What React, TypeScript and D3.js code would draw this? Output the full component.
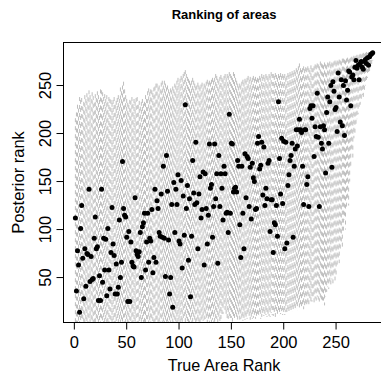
import React from "react";
import * as d3 from "d3";

// Posterior (mean) rank for each area, areas ordered by true rank 1..285
const posteriorRank: number[] = [
  112, 36, 78, 63, 14, 101, 125, 70, 28, 80,
  41, 75, 74, 142, 46, 72, 48, 49, 91, 113,
  80, 82, 26, 52, 26, 142, 45, 91, 58, 90,
  31, 101, 58, 38, 76, 123, 85, 73, 33, 64,
  33, 40, 110, 50, 66, 171, 122, 115, 113, 92,
  25, 98, 25, 87, 66, 62, 61, 133, 78, 74,
  72, 77, 97, 50, 103, 107, 117, 58, 87, 117,
  66, 91, 88, 121, 55, 71, 142, 66, 130, 122,
  97, 93, 137, 92, 166, 91, 51, 177, 140, 89,
  33, 50, 126, 19, 149, 97, 142, 126, 157, 88,
  85, 151, 60, 135, 94, 230, 122, 146, 68, 132,
  30, 93, 172, 138, 126, 191, 128, 80, 137, 155,
  112, 121, 160, 63, 158, 122, 85, 115, 189, 143,
  147, 92, 124, 189, 132, 158, 65, 177, 124, 158,
  143, 110, 166, 158, 117, 118, 97, 220, 117, 190,
  189, 139, 143, 144, 139, 172, 166, 105, 71, 166,
  117, 80, 179, 133, 176, 174, 124, 165, 111, 169,
  154, 150, 121, 122, 190, 197, 163, 167, 191, 136,
  186, 125, 143, 132, 169, 172, 98, 131, 131, 76,
  107, 105, 125, 93, 233, 174, 137, 195, 127, 192,
  80, 191, 86, 146, 157, 172, 177, 190, 92, 166,
  184, 204, 187, 204, 215, 204, 201, 166, 126, 204,
  204, 147, 155, 124, 226, 229, 216, 229, 176, 207,
  197, 242, 196, 124, 207, 190, 184, 208, 204, 159,
  222, 238, 190, 233, 250, 165, 254, 244, 225, 227,
  202, 263, 238, 212, 256, 208, 250, 198, 255, 235,
  245, 265, 264, 229, 259, 261, 256, 269, 276, 268,
  271, 256, 273, 275, 269, 267, 275, 277, 273, 279,
  271, 280, 282, 283, 284,
];

// Lower end of each posterior rank interval
const lowerRank: number[] = [
  1, 1, 2, 1, 1, 2, 1, 3, 1, 2,
  1, 2, 1, 3, 1, 1, 2, 1, 2, 1,
  2, 1, 1, 1, 3, 1, 2, 1, 1, 2,
  1, 1, 2, 1, 1, 3, 1, 2, 1, 1,
  2, 1, 1, 2, 1, 4, 1, 2, 1, 1,
  1, 1, 1, 2, 1, 1, 3, 1, 2, 1,
  2, 1, 1, 3, 1, 2, 1, 1, 2, 1,
  1, 3, 1, 2, 1, 1, 4, 1, 2, 1,
  2, 1, 3, 1, 2, 1, 1, 4, 1, 2,
  1, 1, 2, 1, 1, 5, 3, 2, 4, 1,
  2, 5, 1, 3, 6, 2, 4, 1, 3, 2,
  1, 4, 2, 6, 3, 1, 5, 2, 4, 3,
  6, 3, 5, 2, 7, 4, 3, 6, 2, 5,
  3, 6, 4, 2, 5, 7, 3, 5, 4, 6,
  8, 12, 18, 14, 9, 5, 7, 10, 6, 8,
  4, 7, 5, 9, 6, 5, 8, 4, 7, 6,
  5, 8, 6, 9, 7, 10, 8, 6, 9, 7,
  8, 10, 7, 9, 11, 8, 10, 7, 9, 12,
  10, 8, 11, 9, 12, 10, 9, 13, 11, 10,
  12, 9, 14, 11, 13, 10, 12, 15, 11, 13,
  11, 14, 12, 15, 13, 16, 13, 15, 14, 17,
  15, 18, 16, 20, 17, 19, 18, 21, 17, 19,
  22, 20, 24, 21, 26, 23, 25, 28, 24, 28,
  26, 30, 27, 25, 28, 24, 22, 26, 21, 30,
  35, 40, 38, 45, 42, 48, 44, 50, 47, 52,
  60, 70, 65, 78, 85, 80, 95, 110, 100, 120,
  130, 125, 150, 165, 180, 175, 195, 200, 210, 215,
  220, 225, 230, 235, 240, 238, 245, 250, 255, 258,
  262, 265, 270, 272, 276,
];

// Upper end of each posterior rank interval
const upperRank: number[] = [
  216, 222, 230, 226, 238, 235, 237, 228, 233, 240,
  236, 242, 238, 245, 240, 236, 243, 239, 232, 241,
  237, 244, 240, 235, 246, 245, 243, 238, 241, 236,
  240, 233, 238, 236, 235, 232, 235, 238, 230, 234,
  237, 240, 236, 248, 244, 250, 254, 246, 240, 236,
  232, 230, 235, 234, 238, 231, 236, 233, 237, 238,
  230, 234, 228, 233, 236, 231, 233, 240, 236, 244,
  247, 243, 246, 245, 242, 248, 249, 252, 252, 248,
  250, 246, 253, 255, 250, 255, 252, 248, 250, 246,
  243, 247, 245, 249, 246, 252, 250, 255, 258, 253,
  257, 260, 258, 262, 264, 266, 262, 259, 257, 255,
  252, 255, 258, 255, 252, 249, 250, 253, 250, 248,
  251, 253, 248, 252, 250, 254, 256, 253, 255, 253,
  256, 258, 255, 258, 262, 260, 257, 255, 259, 261,
  258, 256, 260, 262, 258, 262, 260, 264, 262, 260,
  258, 264, 262, 258, 255, 252, 249, 252, 250, 254,
  256, 253, 257, 255, 258, 260, 256, 259, 255, 258,
  260, 257, 259, 256, 258, 257, 260, 258, 262, 259,
  261, 258, 262, 260, 258, 262, 260, 264, 262, 262,
  260, 263, 261, 258, 262, 260, 263, 260, 262, 260,
  262, 258, 260, 263, 261, 264, 262, 265, 263, 266,
  264, 268, 266, 270, 273, 268, 266, 268, 270, 267,
  269, 268, 270, 268, 266, 271, 268, 268, 270, 272,
  271, 273, 272, 270, 275, 273, 272, 271, 274, 272,
  271, 274, 273, 275, 272, 274, 273, 275, 276, 274,
  276, 275, 277, 276, 275, 278, 278, 277, 276, 278,
  279, 277, 278, 279, 280, 279, 281, 280, 281, 282,
  280, 282, 283, 282, 283, 284, 283, 284, 285, 284,
  285, 285, 285, 285, 285,
];

const xTicks: number[] = [0, 50, 100, 150, 200, 250];
const yTicks: number[] = [50, 100, 150, 200, 250];

const titleText = "Ranking of areas";
const xLabel = "True Area Rank";
const yLabel = "Posterior rank";

const W = 381;
const H = 374;
const plotLeft = 63.5;
const plotRight = 384.6;
const plotTop = 42.5;
const plotBottom = 322.5;
const FONT = "'Liberation Sans', Arial, Helvetica, sans-serif";

export default function App() {
  const n = posteriorRank.length;
  const trueRank = posteriorRank.map((_, i) => i + 1);
  const xExt = d3.extent(trueRank) as [number, number];
  const yExt = d3.extent(posteriorRank) as [number, number];
  const xPad = (xExt[1] - xExt[0]) * 0.04;
  const yPad = (yExt[1] - yExt[0]) * 0.04;
  const x = d3.scaleLinear().domain([xExt[0] - xPad, xExt[1] + xPad]).range([plotLeft, plotRight]);
  const y = d3.scaleLinear().domain([yExt[0] - yPad, yExt[1] + yPad]).range([plotBottom, plotTop]);

  return (
    <svg width={W} height={H} style={{ position: "absolute", left: 0, top: 0, background: "#fff" }} fontFamily={FONT}>
      <defs>
        <clipPath id="plotclip">
          <rect x={plotLeft} y={plotTop} width={plotRight - plotLeft} height={plotBottom - plotTop} />
        </clipPath>
      </defs>
      <rect x={0} y={0} width={W} height={H} fill="#fff" />
      <g clipPath="url(#plotclip)">
        {d3.range(n).map((i) => (
          <line
            key={"l" + i}
            x1={x(trueRank[i])}
            x2={x(trueRank[i])}
            y1={y(upperRank[i])}
            y2={y(lowerRank[i])}
            stroke="#bebebe"
            strokeWidth={1}
            strokeDasharray="4 4"
          />
        ))}
        {d3.range(n).map((i) => (
          <circle key={"p" + i} cx={x(trueRank[i])} cy={y(posteriorRank[i])} r={2.5} fill="#000" />
        ))}
      </g>
      <rect x={plotLeft} y={plotTop} width={plotRight - plotLeft} height={plotBottom - plotTop} fill="none" stroke="#000" strokeWidth={1} />
      {xTicks.map((t) => (
        <g key={"xt" + t}>
          <line x1={x(t)} x2={x(t)} y1={plotBottom} y2={plotBottom + 7} stroke="#000" />
          <text x={x(t)} y={347.5} textAnchor="middle" fontSize={16.5} fill="#000">{t}</text>
        </g>
      ))}
      {yTicks.map((t) => (
        <g key={"yt" + t}>
          <line x1={plotLeft} x2={plotLeft - 7} y1={y(t)} y2={y(t)} stroke="#000" />
          <text transform={`translate(51,${y(t)}) rotate(-90)`} textAnchor="middle" fontSize={16.5} fill="#000">{t}</text>
        </g>
      ))}
      <text x={(plotLeft + plotRight) / 2} y={19} textAnchor="middle" fontSize={13} fontWeight="bold" fill="#000">{titleText}</text>
      <text x={(plotLeft + plotRight) / 2} y={371} textAnchor="middle" fontSize={16.2} fill="#000">{xLabel}</text>
      <text transform={`translate(24,${(plotTop + plotBottom) / 2}) rotate(-90)`} textAnchor="middle" fontSize={16.5} fill="#000">{yLabel}</text>
    </svg>
  );
}
